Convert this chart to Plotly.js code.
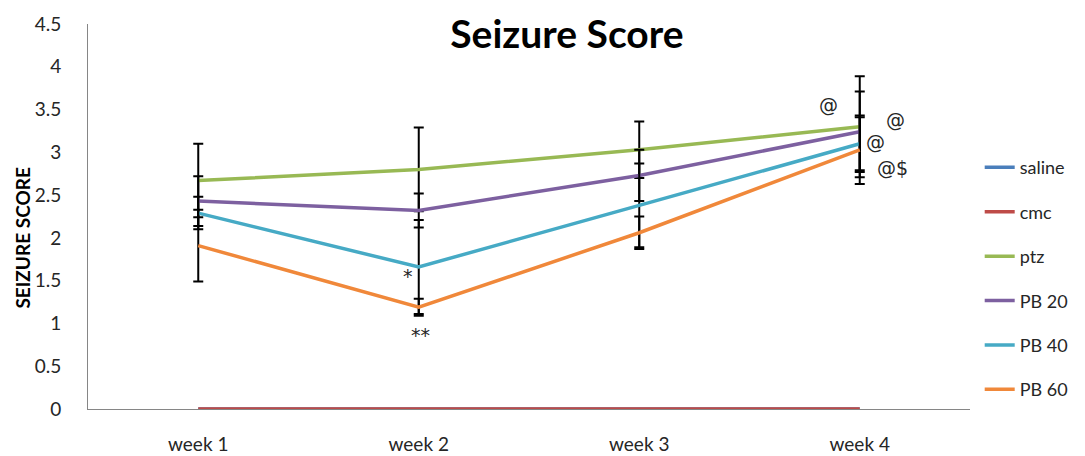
<!DOCTYPE html>
<html>
<head>
<meta charset="utf-8">
<script src="https://cdn.plot.ly/plotly-3.0.1.min.js"></script>
<style>
  html, body { margin: 0; padding: 0; background: #ffffff; }
  #chart { width: 1085px; height: 456px; }
</style>
</head>
<body>
<div id="chart"></div>
<script>
// Weekly seizure scores (mean ± error) per treatment group
const weeks = ['week 1', 'week 2', 'week 3', 'week 4'];

const saline = [0, 0, 0, 0];
const cmc = [0, 0, 0, 0];
const ptz = [2.67, 2.80, 3.03, 3.30];
const ptzErr = [0.43, 0.49, 0.33, 0.59];
const pb20 = [2.43, 2.32, 2.73, 3.24];
const pb20Err = [0.29, 0.20, 0.30, 0.47];
const pb40 = [2.29, 1.66, 2.38, 3.10];
const pb40Err = [0.19, 0.55, 0.49, 0.31];
const pb60 = [1.91, 1.19, 2.06, 3.03];
const pb60Err = [0.42, 0.10, 0.19, 0.40];

const yTicks = [0, 0.5, 1, 1.5, 2, 2.5, 3, 3.5, 4, 4.5];
const yTickText = ['0', '0.5', '1', '1.5', '2', '2.5', '3', '3.5', '4', '4.5'];

// Significance marks placed next to the points
const markText = ['*', '**', '@', '@', '@', '@$'];
const markX = [0.95, 1.01, 2.86, 3.16, 3.07, 3.15];
const markY = [1.56, 0.86, 3.55, 3.38, 3.12, 2.82];

const FONT = 'Lato, "Open Sans", "Liberation Sans", sans-serif';

function series(name, values, color, err) {
  const t = {
    type: 'scatter',
    mode: 'lines',
    name: name,
    x: weeks,
    y: values,
    legendgroup: name,
    cliponaxis: false,
    line: { color: color, width: 3.5 }
  };
  if (err) {
    t.error_y = { type: 'data', array: err, visible: true, color: '#000000', thickness: 2, width: 5 };
  }
  return t;
}

const data = [
  series('saline', saline, '#4A7EBB'),
  series('cmc', cmc, '#BE4B48'),
  series('ptz', ptz, '#98B954', ptzErr),
  series('PB 20', pb20, '#7D60A0', pb20Err),
  series('PB 40', pb40, '#46AAC5', pb40Err),
  series('PB 60', pb60, '#F0883A', pb60Err)
];

const annotations = markText.map((t, i) => ({
  x: markX[i], y: markY[i], xref: 'x', yref: 'y',
  text: t, showarrow: false,
  font: { family: '"DejaVu Sans", ' + FONT, size: 19, color: '#262626' }
}));

annotations.push({
  x: -0.074, xref: 'paper', xanchor: 'center', y: 2.0, yref: 'y', yanchor: 'middle',
  text: '<b>SEIZURE SCORE</b>', textangle: -90, showarrow: false,
  font: { family: FONT, size: 19, color: '#000000' }
});

const layout = {
  width: 1085,
  height: 456,
  margin: { l: 88, r: 110, t: 24, b: 47 },
  paper_bgcolor: '#ffffff',
  plot_bgcolor: '#ffffff',
  font: { family: FONT, size: 19, color: '#262626' },
  title: {
    text: '<b>Seizure Score</b>',
    font: { family: FONT, size: 39, color: '#000000' },
    x: 0.543, xanchor: 'center', xref: 'paper',
    y: 0.925, yanchor: 'middle', yref: 'container'
  },
  showlegend: true,
  legend: {
    x: 1.011, xanchor: 'left', y: 0.675, yanchor: 'top',
    font: { family: FONT, size: 18, color: '#262626' },
    tracegroupgap: 18,
    bgcolor: 'rgba(0,0,0,0)'
  },
  xaxis: {
    type: 'category',
    range: [-0.5, 3.5],
    showline: true, linecolor: '#868686', linewidth: 1,
    showgrid: false, zeroline: false,
    ticks: '', ticklabelstandoff: 18,
    tickfont: { family: FONT, size: 19, color: '#262626' }
  },
  yaxis: {
    range: [0, 4.5],
    tickvals: yTicks, ticktext: yTickText,
    showline: true, linecolor: '#868686', linewidth: 1,
    showgrid: false, zeroline: false,
    ticks: '', ticklabelstandoff: 22,
    tickfont: { family: FONT, size: 19, color: '#262626' }
  },
  annotations: annotations
};

Plotly.newPlot('chart', data, layout, { displayModeBar: false, staticPlot: true });
</script>
</body>
</html>
